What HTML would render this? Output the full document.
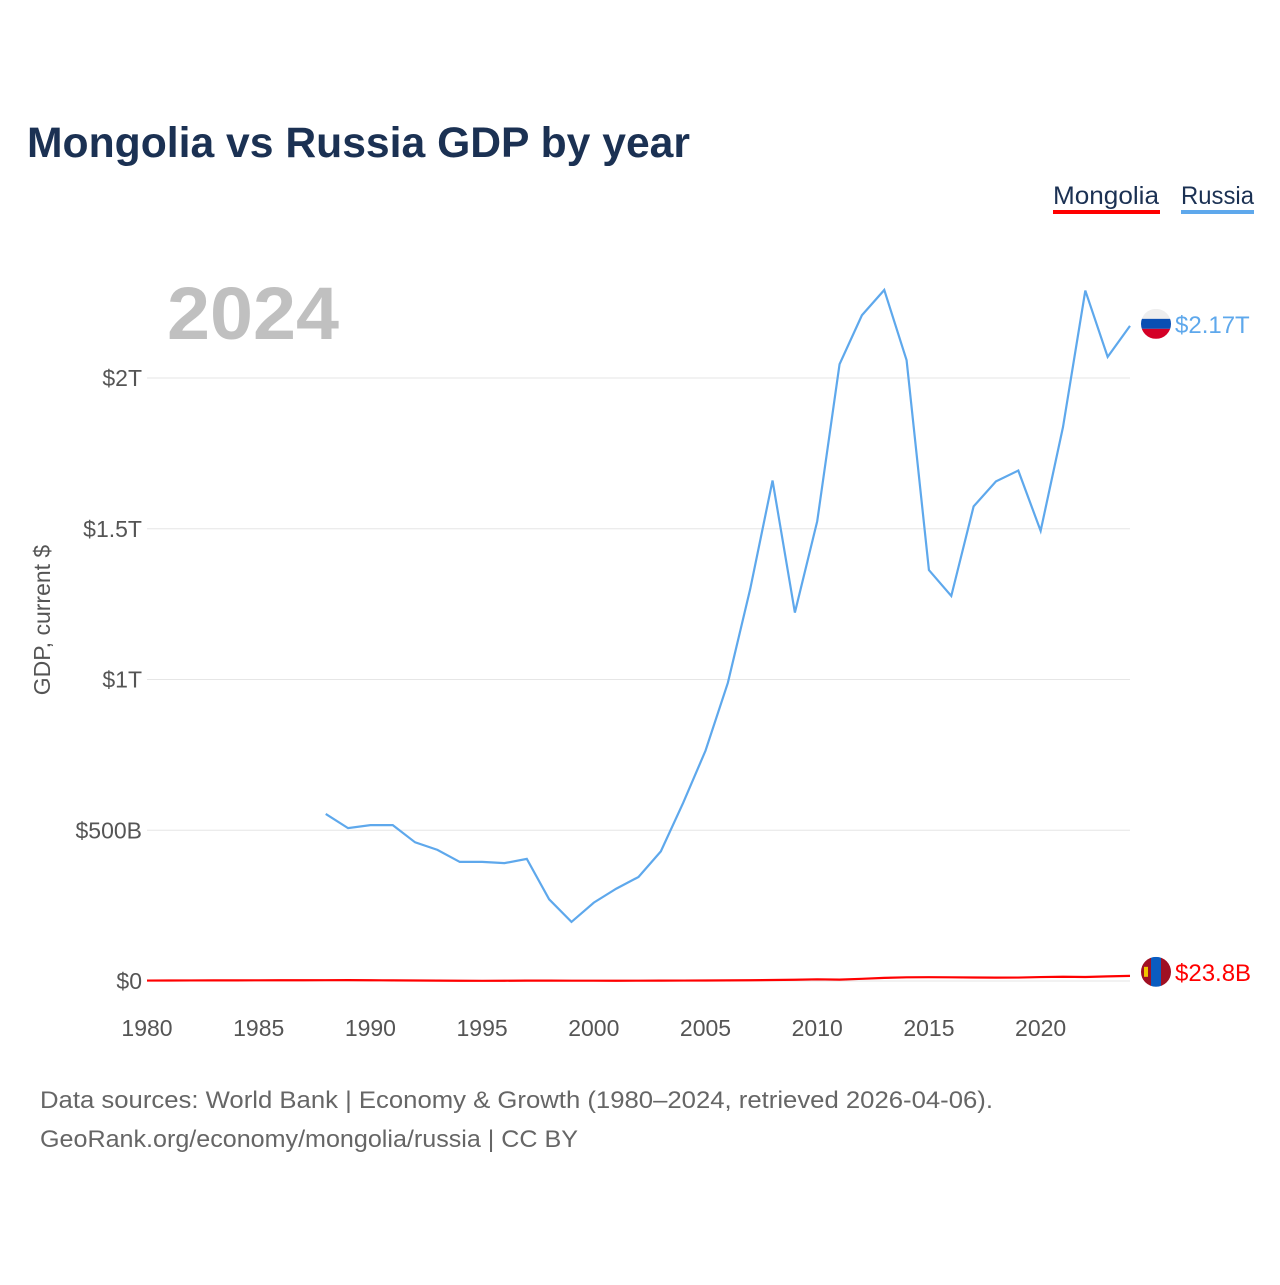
<!DOCTYPE html>
<html><head><meta charset="utf-8"><style>
body{margin:0;background:#fff;}
svg text{font-family:"Liberation Sans",sans-serif;}
</style></head><body>
<svg id="chart" width="1280" height="1280" xmlns="http://www.w3.org/2000/svg">
<text x="27" y="157" font-size="43" font-weight="bold" fill="#1b3153" textLength="663" lengthAdjust="spacingAndGlyphs">Mongolia vs Russia GDP by year</text>
<text x="1053" y="204" font-size="25" fill="#1b3153" textLength="106" lengthAdjust="spacingAndGlyphs">Mongolia</text>
<rect x="1053" y="210" width="107" height="4" fill="#ff0000"/>
<text x="1181" y="204" font-size="25" fill="#1b3153" textLength="73" lengthAdjust="spacingAndGlyphs">Russia</text>
<rect x="1181" y="210" width="73" height="4" fill="#5ea8ec"/>
<text x="167" y="339" font-size="74" font-weight="bold" fill="#c0c0c0" textLength="172" lengthAdjust="spacingAndGlyphs">2024</text>
<text transform="translate(50,620) rotate(-90)" text-anchor="middle" font-size="23" fill="#555">GDP, current $</text>
<g id="grid"></g><g id="lines"></g><g id="labels"></g>
<text x="40" y="1108" font-size="24" fill="#666" textLength="953" lengthAdjust="spacingAndGlyphs">Data sources: World Bank | Economy &amp; Growth (1980–2024, retrieved 2026-04-06).</text>
<text x="40" y="1147" font-size="24" fill="#666" textLength="538" lengthAdjust="spacingAndGlyphs">GeoRank.org/economy/mongolia/russia | CC BY</text>
</svg>
<script>
const years=[];for(let y=1980;y<=2024;y++)years.push(y);
const russiaYears=[1988,1989,1990,1991,1992,1993,1994,1995,1996,1997,1998,1999,2000,2001,2002,2003,2004,2005,2006,2007,2008,2009,2010,2011,2012,2013,2014,2015,2016,2017,2018,2019,2020,2021,2022,2023,2024];
const russiaGDP=[554,507,517,517,460,435,395,395,391,405,271,196,260,306,345,430,591,764,989,1300,1660,1222,1525,2046,2208,2292,2059,1363,1277,1574,1657,1693,1493,1837,2290,2070,2173];
const mongoliaGDP=[1.5,1.7,1.9,2.0,2.1,2.3,2.4,2.6,2.7,2.8,2.6,2.1,1.6,1.2,0.8,0.7,0.9,1.2,1.2,1.1,1.0,0.9,1.1,1.2,1.4,1.6,2.0,2.5,3.4,4.2,5.6,4.6,7.2,10.4,12.3,12.6,12.2,11.7,11.2,11.4,13.1,14.2,13.3,15.3,17.1,20.3,23.8];
const yTicks=[0,500,1000,1500,2000];
const yTickLabels=["$0","$500B","$1T","$1.5T","$2T"];
const xTicks=[1980,1985,1990,1995,2000,2005,2010,2015,2020];
const NS="http://www.w3.org/2000/svg";
const X=y=>147+(y-1980)*(1130-147)/44;
const Y=v=>981-v*(981-378)/2000;
function mk(tag,attrs,parent){const e=document.createElementNS(NS,tag);for(const k in attrs)e.setAttribute(k,attrs[k]);parent.appendChild(e);return e;}
const grid=document.getElementById('grid'),lines=document.getElementById('lines'),labels=document.getElementById('labels');
yTicks.forEach((t,i)=>{
 const l=mk('line',{x1:147,x2:1130,y1:Y(t),y2:Y(t),stroke:'#e6e6e6','stroke-width':1},grid);
 
 
 const tx=mk('text',{x:142,y:Y(t)+8,'text-anchor':'end','font-size':23,fill:'#555'},grid);tx.textContent=yTickLabels[i];
 
 
});
xTicks.forEach(t=>{
 const tx=mk('text',{x:X(t),y:1036,'text-anchor':'middle','font-size':23,fill:'#555'},grid);tx.textContent=t;
 
 
});
const pr=mk('polyline',{points:russiaYears.map((y,i)=>X(y)+','+Y(russiaGDP[i])).join(' '),fill:'none',stroke:'#5ea8ec','stroke-width':2.2},lines);


const pm=mk('polyline',{points:years.map((y,i)=>X(y)+','+Y(mongoliaGDP[i])).join(' '),fill:'none',stroke:'#ff0000','stroke-width':2.2},lines);


const rv=russiaGDP[russiaGDP.length-1], ry=Y(rv)-2;
const fr=mk('g',{},labels);


const cpr=mk('clipPath',{id:'cr'},fr);mk('circle',{cx:1156,cy:ry,r:15},cpr);
mk('rect',{x:1141,y:ry-15,width:30,height:10,fill:'#eee','clip-path':'url(#cr)'},fr);
mk('rect',{x:1141,y:ry-5,width:30,height:10,fill:'#0a4fb3','clip-path':'url(#cr)'},fr);
mk('rect',{x:1141,y:ry+5,width:30,height:10,fill:'#d40026','clip-path':'url(#cr)'},fr);
const rt=mk('text',{x:1175,y:ry+9,'font-size':24,fill:'#5ea8ec'},labels);rt.textContent='$2.17T';


const mv=mongoliaGDP[mongoliaGDP.length-1], my=Y(mv)-2;
const fm=mk('g',{},labels);


const cp=mk('clipPath',{id:'cm'},fm);mk('circle',{cx:1156,cy:my,r:15},cp);
mk('rect',{x:1141,y:my-15,width:10,height:30,fill:'#a01023','clip-path':'url(#cm)'},fm);
mk('rect',{x:1151,y:my-15,width:10,height:30,fill:'#0a5cc0','clip-path':'url(#cm)'},fm);
mk('rect',{x:1161,y:my-15,width:10,height:30,fill:'#a01023','clip-path':'url(#cm)'},fm);
mk('rect',{x:1144,y:my-5,width:4,height:10,fill:'#f2c500'},fm);
const mt=mk('text',{x:1175,y:my+9,'font-size':24,fill:'#ff0000'},labels);mt.textContent='$23.8B';


</script>
</body></html>
